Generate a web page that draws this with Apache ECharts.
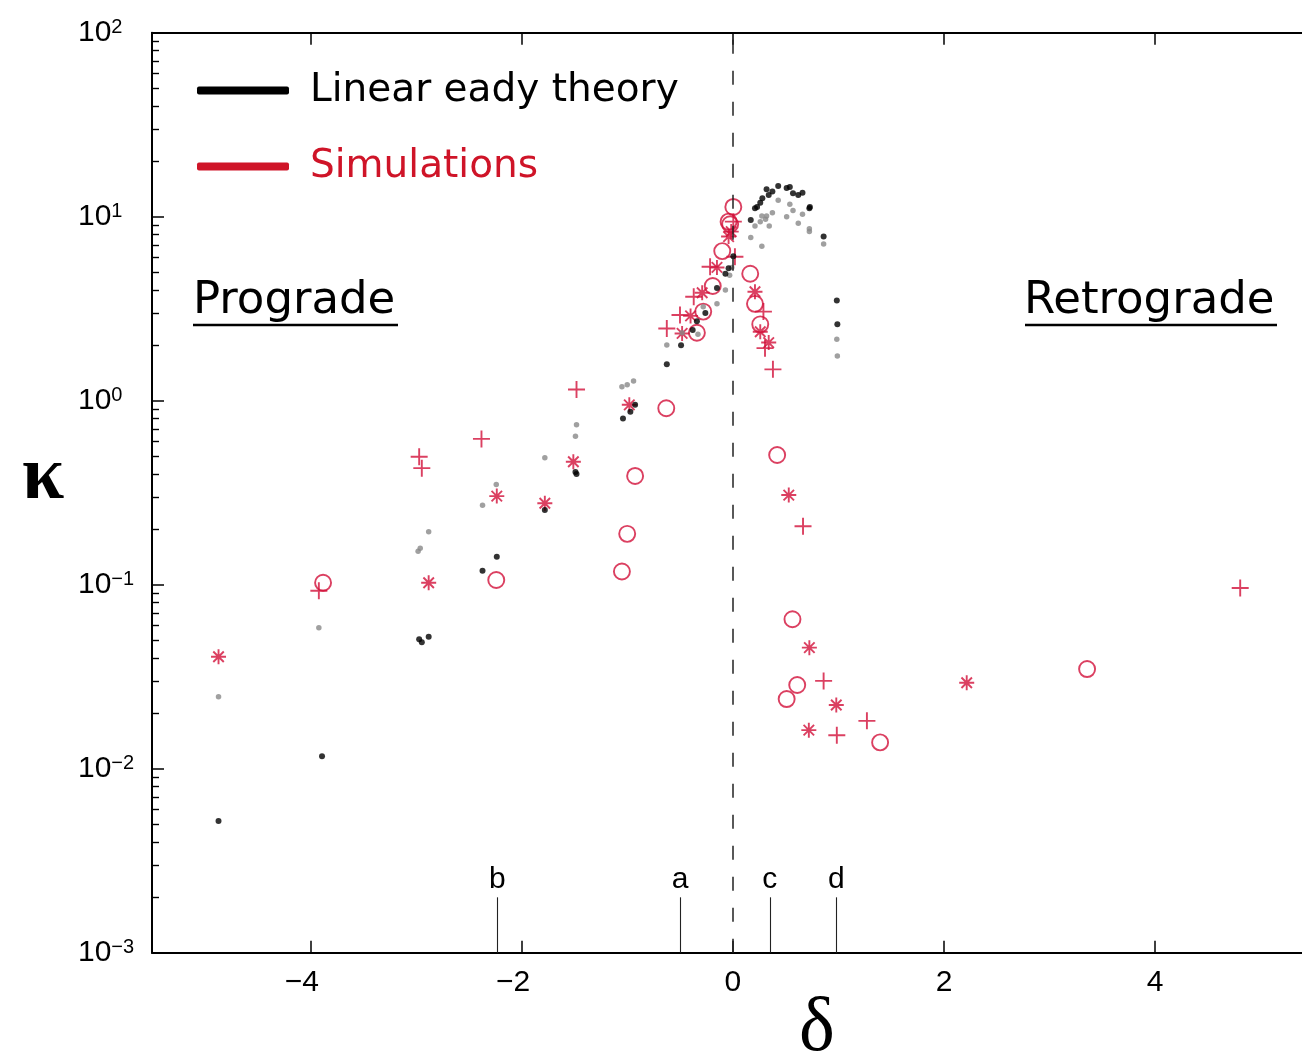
<!DOCTYPE html>
<html>
<head>
<meta charset="utf-8">
<script src="https://cdn.jsdelivr.net/npm/echarts@6/dist/echarts.min.js"></script>
<style>
  html, body { margin: 0; padding: 0; background: #ffffff; }
  #chart { width: 1302px; height: 1061px; }
</style>
</head>
<body>
<div id="chart"></div>
<script>
// Growth rate kappa against the shear parameter delta (log scale in kappa)

// Axis ranges and tick values
const deltaRange = [-5.5, 5.5];
const kappaRange = [1e-3, 1e2];
const deltaTicks = [-4, -2, 0, 2, 4];
const kappaTicks = [1e-3, 1e-2, 1e-1, 1e0, 1e1, 1e2];
const minorMultiples = [2, 3, 4, 5, 6, 7, 8, 9];
const minorDecades = [1e-3, 1e-2, 1e-1, 1e0, 1e1];

// Reference cases marked along the bottom axis
const caseNames = ['b', 'a', 'c', 'd'];
const caseDelta = [-2.23, -0.5, 0.35, 0.98];
const caseMarkTop = 0.002;

// Linear Eady theory, main branch (black dots)
const theoryDelta = [0.17, 0.21, 0.23, 0.26, 0.28, 0.32, 0.34, 0.375, 0.43, 0.51, 0.54, 0.57, 0.62, 0.66, 0.725, 0.73, 0.86, 0.985, 0.99,
  0.005, -0.04, -0.07, -0.15, -0.26, -0.34, -0.38, -0.49, -0.625, -0.925, -0.97, -1.04, -1.49, -1.48, -1.78, -2.235, -2.37, -2.97, -2.945, -2.88, -3.89, -4.87];
const theoryKappa = [9.6, 11.1, 11.3, 11.9, 12.6, 14.1, 13.1, 13.7, 14.7, 14.3, 14.5, 13.4, 13.1, 13.5, 11.1, 11.3, 7.8, 3.5, 2.6,
  6.1, 5.25, 4.9, 4.1, 3.0, 2.7, 2.42, 2.0, 1.58, 0.95, 0.87, 0.80, 0.41, 0.40, 0.255, 0.142, 0.119, 0.0505, 0.0486, 0.0522, 0.0117, 0.0052];

// Linear Eady theory, second branch (grey dots)
const branchDelta = [0.17, 0.275, 0.21, 0.26, 0.31, 0.275, 0.32, 0.345, 0.375, 0.43, 0.51, 0.54, 0.57, 0.62, 0.66, 0.725, 0.725, 0.86, 0.985, 0.99,
  -0.01, -0.03, -0.07, -0.15, -0.28, -0.33, -0.48, -0.625, -1.05, -1.0, -0.94, -1.48, -1.49, -1.78, -2.24, -2.37, -2.88, -2.96, -2.98, -3.92, -4.87];
const branchKappa = [7.7, 6.9, 8.9, 9.4, 9.7, 10.1, 10.1, 8.9, 10.5, 12.3, 10.0, 11.7, 10.8, 9.2, 10.3, 8.6, 8.3, 7.1, 2.16, 1.75,
  5.3, 4.8, 4.0, 3.36, 3.24, 2.30, 2.34, 2.01, 1.19, 1.22, 1.28, 0.74, 0.64, 0.49, 0.35, 0.27, 0.194, 0.158, 0.152, 0.0584, 0.0246];

// Simulations, circles
const simCircleDelta = [0.005, -0.04, -0.025, -0.10, -0.19, -0.28, -0.34, 0.165, 0.21, 0.26, -0.63, -0.925, -1.0, -1.05, -2.24, -3.88, 0.42, 0.565, 0.61, 0.51, 1.395, 3.355];
const simCircleKappa = [11.3, 9.4, 9.1, 6.5, 4.2, 3.05, 2.34, 4.9, 3.36, 2.6, 0.91, 0.39, 0.189, 0.118, 0.106, 0.1025, 0.507, 0.0649, 0.0285, 0.0239, 0.0139, 0.0348];

// Simulations, asterisks
const simStarDelta = [-0.04, -0.015, -0.15, -0.29, -0.40, -0.48, 0.21, 0.26, 0.34, -0.98, -1.51, -2.235, -1.78, -2.88, -4.87, 0.53, 0.725, 0.98, 0.72, 2.215];
const simStarKappa = [7.8, 8.3, 5.3, 3.86, 2.89, 2.32, 3.91, 2.37, 2.07, 0.95, 0.466, 0.303, 0.277, 0.1025, 0.0406, 0.307, 0.0455, 0.0222, 0.0162, 0.0293];

// Simulations, plus signs
const simPlusDelta = [0.005, 0.02, -0.215, -0.37, -0.50, -0.625, 0.29, 0.305, 0.38, -1.48, -2.38, -2.97, -2.945, -3.92, 0.665, 0.86, 1.27, 0.985, 4.805];
const simPlusKappa = [9.4, 6.06, 5.35, 3.67, 2.92, 2.47, 3.05, 1.93, 1.48, 1.15, 0.62, 0.496, 0.43, 0.0927, 0.208, 0.030, 0.0182, 0.0152, 0.096];

const RED = '#d2103a';
const RED_TEXT = '#cf1428';
const GREY = '#888888';

const pairs = (xs, ys) => xs.map((x, i) => [x, ys[i]]);
const minorTickValues = [];
minorDecades.forEach(d => minorMultiples.forEach(m => minorTickValues.push(d * m)));

const supText = v => {
  const e = Math.round(Math.log10(v));
  return e < 0 ? '\u2212' + (-e) : String(e);
};

const chart = echarts.init(document.getElementById('chart'), null, { renderer: 'canvas' });

chart.setOption({
  animation: false,
  backgroundColor: '#ffffff',
  // the frame runs a little past the right edge of the page
  grid: { left: 152, top: 32.7, right: -11.6, bottom: 108.3, containLabel: false, outerBoundsMode: 'none' },
  legend: {
    left: 192, top: 66, orient: 'vertical',
    itemWidth: 92, itemHeight: 8, itemGap: 37,
    selectedMode: false,
    itemStyle: { opacity: 1, borderWidth: 0 },
    textStyle: { fontFamily: 'DejaVu Sans', fontSize: 39, padding: [0, 0, 0, 16] },
    data: [
      { name: 'Linear eady theory', icon: 'roundRect', itemStyle: { color: '#000000', borderWidth: 0, opacity: 1 }, textStyle: { color: '#000000' } },
      { name: 'Simulations', icon: 'roundRect', itemStyle: { color: RED_TEXT, borderWidth: 0, opacity: 1 }, textStyle: { color: RED_TEXT } }
    ]
  },
  xAxis: [
    {
      type: 'value', min: deltaRange[0], max: deltaRange[1], position: 'bottom',
      axisLine: { show: true, onZero: false, lineStyle: { color: '#000', width: 2 } },
      axisTick: { show: true, inside: true, length: 12, customValues: deltaTicks, lineStyle: { color: '#000', width: 1.5 } },
      axisLabel: {
        show: true, margin: 15, customValues: deltaTicks,
        fontFamily: 'Liberation Sans', fontSize: 30, color: '#000',
        formatter: v => v < 0 ? '{n|\u2212' + (-v) + '}' : '{p|' + v + '}',
        rich: {
          n: { fontFamily: 'Liberation Sans', fontSize: 30, color: '#000', padding: [0, 17, 0, 0] },
          p: { fontFamily: 'Liberation Sans', fontSize: 30, color: '#000' }
        }
      },
      splitLine: { show: false }
    },
    {
      type: 'value', min: deltaRange[0], max: deltaRange[1], position: 'top',
      axisLine: { show: true, onZero: false, lineStyle: { color: '#000', width: 2 } },
      axisTick: { show: true, inside: true, length: 12, customValues: deltaTicks, lineStyle: { color: '#000', width: 1.5 } },
      axisLabel: { show: false },
      splitLine: { show: false }
    }
  ],
  yAxis: [
    {
      type: 'log', logBase: 10, min: kappaRange[0], max: kappaRange[1], position: 'left',
      axisLine: { show: true, onZero: false, lineStyle: { color: '#000', width: 2 } },
      axisTick: { show: true, inside: true, length: 12, customValues: kappaTicks, lineStyle: { color: '#000', width: 1.5 } },
      axisLabel: {
        show: true, align: 'left', margin: 74, customValues: kappaTicks,
        formatter: v => '{b|10}{s|' + supText(v) + '}',
        rich: {
          b: { fontFamily: 'Liberation Sans', fontSize: 30, lineHeight: 30, color: '#000', padding: [6, 0, 0, 0], verticalAlign: 'bottom' },
          s: { fontFamily: 'Liberation Sans', fontSize: 20, lineHeight: 20, color: '#000', verticalAlign: 'top' }
        }
      },
      splitLine: { show: false }
    },
    {
      // minor decade ticks on the same scale
      type: 'log', logBase: 10, min: kappaRange[0], max: kappaRange[1], position: 'left', offset: 0,
      axisLine: { show: false, onZero: false },
      axisTick: { show: true, inside: true, length: 7, customValues: minorTickValues, lineStyle: { color: '#000', width: 1.4 } },
      axisLabel: { show: false },
      splitLine: { show: false }
    }
  ],
  graphic: [
    { type: 'text', x: 193, y: 301, style: { text: 'Prograde', font: '45px "DejaVu Sans"', fill: '#000', align: 'left', verticalAlign: 'middle' } },
    { type: 'line', shape: { x1: 193, y1: 325, x2: 398, y2: 325 }, style: { stroke: '#000', lineWidth: 2.5 } },
    { type: 'text', x: 1024, y: 301, style: { text: 'Retrograde', font: '45px "DejaVu Sans"', fill: '#000', align: 'left', verticalAlign: 'middle' } },
    { type: 'line', shape: { x1: 1025, y1: 325, x2: 1277, y2: 325 }, style: { stroke: '#000', lineWidth: 2.5 } },
    { type: 'text', x: 43, y: 478, style: { text: 'κ', font: 'bold 76px "Liberation Serif"', fill: '#000', align: 'center', verticalAlign: 'middle' } },
    { type: 'text', x: 817, y: 1030, style: { text: 'δ', font: '76px "Liberation Serif"', fill: '#000', align: 'center', verticalAlign: 'middle' } }
  ],
  series: [
    {
      name: 'guides', type: 'scatter', data: [], z: 1, silent: true,
      markLine: {
        silent: true, symbol: ['none', 'none'], animation: false,
        data: [
          { xAxis: 0, label: { show: false }, lineStyle: { color: '#222', width: 1.5, type: [14, 17] } }
        ].concat(caseDelta.map((x, i) => [
          { coord: [x, kappaRange[0]], name: caseNames[i] },
          { coord: [x, caseMarkTop], name: caseNames[i] }
        ])),
        lineStyle: { color: '#222', width: 1.1, type: 'solid' },
        label: { show: true, position: 'end', formatter: '{b}', fontFamily: 'Liberation Sans', fontSize: 30, color: '#000', distance: 3 }
      }
    },
    {
      name: 'Simulations', type: 'scatter', z: 2, data: pairs(simCircleDelta, simCircleKappa),
      symbol: 'circle', symbolSize: 16,
      itemStyle: { color: 'rgba(0,0,0,0)', borderColor: RED, borderWidth: 1.9 }
    },
    {
      name: 'Simulations', type: 'scatter', z: 2, data: pairs(simStarDelta, simStarKappa),
      symbol: 'path://M0,-1V1M-1,0H1M-0.7,-0.7L0.7,0.7M-0.7,0.7L0.7,-0.7', symbolSize: 15,
      itemStyle: { color: 'none', borderColor: RED, borderWidth: 1.9 }
    },
    {
      name: 'Simulations', type: 'scatter', z: 2, data: pairs(simPlusDelta, simPlusKappa),
      symbol: 'path://M0,-1V1M-1,0H1', symbolSize: 17,
      itemStyle: { color: 'none', borderColor: RED, borderWidth: 1.9 }
    },
    {
      name: 'Linear eady theory, second branch', type: 'scatter', z: 2, data: pairs(branchDelta, branchKappa),
      symbol: 'circle', symbolSize: 5.5, itemStyle: { color: GREY }
    },
    {
      name: 'Linear eady theory', type: 'scatter', z: 2, data: pairs(theoryDelta, theoryKappa),
      symbol: 'circle', symbolSize: 6, itemStyle: { color: '#000000' }
    }
  ]
});
</script>
</body>
</html>
